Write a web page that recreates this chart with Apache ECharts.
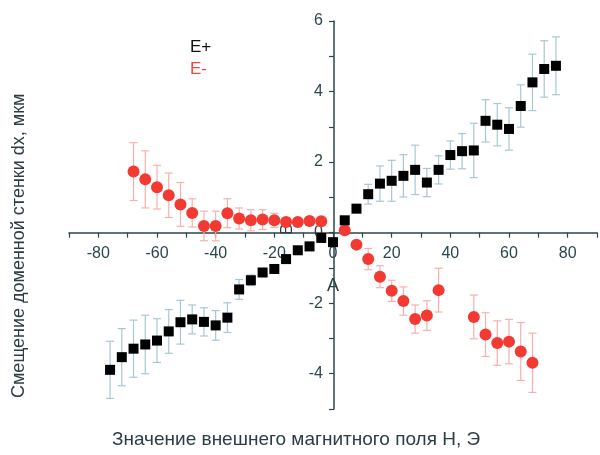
<!DOCTYPE html>
<html>
<head>
<meta charset="utf-8">
<script src="https://cdn.jsdelivr.net/npm/echarts@6/dist/echarts.min.js"></script>
<style>html,body{margin:0;padding:0;background:#fff}#c{width:600px;height:455px}</style>
</head>
<body>
<div id="c"></div>
<script>
// E+ series (black squares)
const ePlusX = [-76,-72,-68,-64,-60,-56,-52,-48,-44,-40,-36,-32,-28,-24,-20,-16,-12,-8,-4,0,
                4,8,12,16,20,24,28,32,36,40,44,48,52,56,60,64,68,72,76];
const ePlusY = [-3.89,-3.53,-3.29,-3.17,-3.06,-2.80,-2.54,-2.46,-2.53,-2.63,-2.41,-1.61,-1.35,-1.13,-1.03,-0.75,-0.50,-0.39,-0.15,-0.27,
                0.35,0.68,1.09,1.39,1.47,1.61,1.78,1.42,1.78,2.20,2.31,2.33,3.17,3.06,2.94,3.59,4.26,4.64,4.73];
const ePlusErr = [0.81,0.81,0.81,0.83,0.62,0.62,0.62,0.41,0.40,0.42,0.42,0.28,0.15,0.10,0.10,0.10,0.10,0.12,0.08,0.05,
                  0.05,0.08,0.28,0.50,0.58,0.60,0.70,0.40,0.40,0.40,0.50,0.77,0.60,0.60,0.60,0.60,0.80,0.80,0.82];
// E- series (red circles)
const eMinusX = [-68,-64,-60,-56,-52,-48,-44,-40,-36,-32,-28,-24,-20,-16,-12,-8,-4,
                 4,8,12,16,20,24,28,32,36,48,52,56,60,64,68];
const eMinusY = [1.73,1.51,1.29,1.06,0.80,0.56,0.19,0.19,0.55,0.40,0.35,0.37,0.35,0.30,0.30,0.33,0.32,
                 0.07,-0.34,-0.75,-1.25,-1.65,-1.94,-2.45,-2.35,-1.63,-2.39,-2.89,-3.13,-3.09,-3.37,-3.69];
const eMinusErr = [0.82,0.81,0.62,0.63,0.62,0.40,0.42,0.42,0.41,0.30,0.30,0.28,0.20,0.12,0.10,0.10,0.10,
                   0.05,0.08,0.30,0.31,0.30,0.40,0.40,0.42,0.62,0.62,0.62,0.63,0.63,0.82,0.84];
const xLabels = [-80,-60,-40,-20,0,20,40,60,80];
const yLabels = [-4,-2,0,2,4,6];

const X_MIN = -90, X_MAX = 90, Y_MIN = -5, Y_MAX = 6;
const G = { left: 69, right: 1, top: 21, bottom: 46 };
const W = 600, H = 455;
const gw = W - G.left - G.right, gh = H - G.top - G.bottom;
// shift axes so they cross at zero
const xOffset = -gh * (0 - Y_MIN) / (Y_MAX - Y_MIN);
const yOffset = -gw * (0 - X_MIN) / (X_MAX - X_MIN);

const axisColor = '#2c474c';
const textColor = '#2c3e44';
const font = 'Liberation Sans, Arial, sans-serif';

function pts(xs, ys) { return xs.map((x, i) => [x, ys[i]]); }
function errs(xs, ys, es) { return xs.map((x, i) => [x, ys[i] - es[i], ys[i] + es[i]]); }

function errRender(color) {
  return function (params, api) {
    const x = api.value(0);
    const lo = api.coord([x, api.value(1)]);
    const hi = api.coord([x, api.value(2)]);
    const w = 4;
    const st = { stroke: color, lineWidth: 1.2 };
    return {
      type: 'group',
      children: [
        { type: 'line', shape: { x1: lo[0], y1: lo[1], x2: hi[0], y2: hi[1] }, style: st },
        { type: 'line', shape: { x1: lo[0] - w, y1: lo[1], x2: lo[0] + w, y2: lo[1] }, style: st },
        { type: 'line', shape: { x1: hi[0] - w, y1: hi[1], x2: hi[0] + w, y2: hi[1] }, style: st }
      ]
    };
  };
}

const chart = echarts.init(document.getElementById('c'), null, { renderer: 'canvas' });
chart.setOption({
  animation: false,
  backgroundColor: '#fff',
  textStyle: { fontFamily: font },
  grid: G,
  legend: {
    orient: 'vertical', left: 180, top: 34, itemGap: 5, itemWidth: 0, itemHeight: 0,
    selectedMode: false,
    textStyle: { fontSize: 17, fontFamily: font },
    data: [
      { name: 'E+', icon: 'none', textStyle: { color: '#111' } },
      { name: 'E-', icon: 'none', textStyle: { color: '#f04a40' } }
    ]
  },
  xAxis: {
    type: 'value', min: X_MIN, max: X_MAX, interval: 10, offset: xOffset,
    axisLine: { onZero: false, lineStyle: { color: axisColor, width: 1.5 } },
    axisTick: { show: true, length: 5, lineStyle: { color: axisColor, width: 1.2 } },
    axisLabel: {
      color: axisColor, fontSize: 16, margin: 13, fontFamily: font, showMinLabel: true, showMaxLabel: true,
      formatter: v => (xLabels.indexOf(v) >= 0 ? String(v) : '')
    },
    splitLine: { show: false }
  },
  yAxis: {
    type: 'value', min: Y_MIN, max: Y_MAX, interval: 1, offset: yOffset,
    axisLine: { onZero: false, lineStyle: { color: axisColor, width: 1.5 } },
    axisTick: { show: true, length: 5, lineStyle: { color: axisColor, width: 1.2 } },
    axisLabel: {
      color: axisColor, fontSize: 16, margin: 11, fontFamily: font,
      formatter: v => (yLabels.indexOf(v) >= 0 ? String(v) : '')
    },
    splitLine: { show: false }
  },
  graphic: [
    { type: 'text', x: 10, y: 398, rotation: Math.PI / 2,
      style: { text: 'Смещение доменной стенки dx, мкм', fontSize: 18, fill: textColor, fontFamily: font } },
    { type: 'text', x: 112, y: 430,
      style: { text: 'Значение внешнего магнитного поля H, Э', fontSize: 19, fill: textColor, fontFamily: font } },
    { type: 'text', x: 327, y: 277,
      style: { text: 'A', fontSize: 18, fill: textColor, fontFamily: font } },
    { type: 'text', x: 279, y: 235, rotation: Math.PI / 2,
      style: { text: 'B', fontSize: 17, fill: textColor, fontFamily: font } }
  ],
  series: [
    { name: 'E+err', type: 'custom', renderItem: errRender('#a9c6d4'), data: errs(ePlusX, ePlusY, ePlusErr), z: 1, silent: true },
    { name: 'E-err', type: 'custom', renderItem: errRender('#f7b0ae'), data: errs(eMinusX, eMinusY, eMinusErr), z: 1, silent: true },
    { name: 'E-', type: 'scatter', symbol: 'circle', symbolSize: 12, itemStyle: { color: '#f23a33', opacity: 1 }, data: pts(eMinusX, eMinusY), z: 3 },
    { name: 'E+', type: 'scatter', symbol: 'rect', symbolSize: 10, itemStyle: { color: '#000', opacity: 1 }, data: pts(ePlusX, ePlusY), z: 4 }
  ]
});
</script>
</body>
</html>
